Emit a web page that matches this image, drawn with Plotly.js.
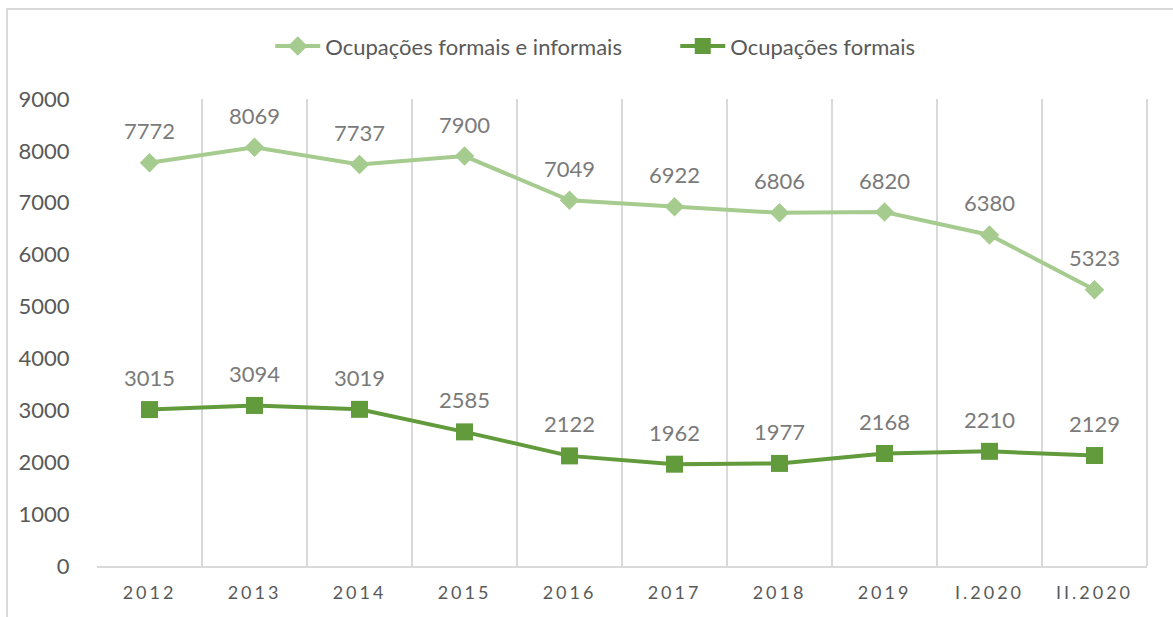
<!DOCTYPE html>
<html>
<head>
<meta charset="utf-8">
<script src="https://cdn.plot.ly/plotly-3.0.1.min.js"></script>
<style>
body{margin:0;padding:0;background:#fff;}
#chart{width:1173px;height:617px;}
.xtick text{letter-spacing:3px;}
</style>
</head>
<body>
<div id="chart"></div>
<script>
const categories = ["2012","2013","2014","2015","2016","2017","2018","2019","I.2020","II.2020"];
const formaisInformais = [7772,8069,7737,7900,7049,6922,6806,6820,6380,5323];
const formais = [3015,3094,3019,2585,2122,1962,1977,2168,2210,2129];
const yTicks = [0,1000,2000,3000,4000,5000,6000,7000,8000,9000];

const lightGreen = "#a5cb8f";
const darkGreen = "#629b3c";
const font = "Lato, 'Open Sans', sans-serif";

const traces = [
  {x: categories, y: formaisInformais, name: "Ocupações formais e informais", type: "scatter", mode: "lines+markers",
   line: {color: lightGreen, width: 4}, marker: {symbol: "diamond", size: 15, color: lightGreen}},
  {x: categories, y: formais, name: "Ocupações formais", type: "scatter", mode: "lines+markers",
   line: {color: darkGreen, width: 4}, marker: {symbol: "square", size: 17, color: darkGreen}}
];

const annotations = [];
[formaisInformais, formais].forEach(series => {
  series.forEach((v, i) => {
    annotations.push({x: i, y: v, text: String(v), showarrow: false, yshift: 32,
      yanchor: "middle", font: {family: font, size: 22, color: "#7a7a7a"}});
  });
});

const layout = {
  width: 1173, height: 617,
  margin: {l: 97, r: 26, t: 99, b: 51},
  paper_bgcolor: "#fff", plot_bgcolor: "#fff",
  font: {family: font, size: 18, color: "#595959"},
  showlegend: true,
  legend: {orientation: "h", x: 0.165, y: 1.113, xanchor: "left", yanchor: "middle",
    font: {family: font, size: 22, color: "#595959"}, itemwidth: 45, entrywidth: 345, entrywidthmode: "pixels",
    traceorder: "normal"},
  xaxis: {type: "category", tickson: "boundaries", showgrid: true, gridcolor: "#d9d9d9", gridwidth: 2,
    showline: true, linecolor: "#d9d9d9", linewidth: 2, mirror: false,
    ticks: "", ticklabelstandoff: 9,
    tickfont: {family: font, size: 18, color: "#595959"}, range: [-0.5, 9.5], fixedrange: true},
  yaxis: {range: [0, 9000], tickvals: yTicks, showgrid: false, zeroline: false, showline: false,
    ticks: "outside", ticklen: 22, tickcolor: "rgba(0,0,0,0)",
    tickfont: {family: font, size: 22, color: "#595959"}},
  annotations: annotations,
  shapes: [
    {type: "line", xref: "paper", yref: "paper", x0: 1, x1: 1, y0: 0, y1: 1, line: {color: "#d9d9d9", width: 2}},
    {type: "rect", xref: "paper", yref: "paper", x0: -0.0857, x1: 1.2, y0: -0.3, y1: 1.1927,
     line: {color: "#d9d9d9", width: 2}, layer: "below"}
  ]
};

Plotly.newPlot("chart", traces, layout, {displayModeBar: false, staticPlot: true});
</script>
</body>
</html>
